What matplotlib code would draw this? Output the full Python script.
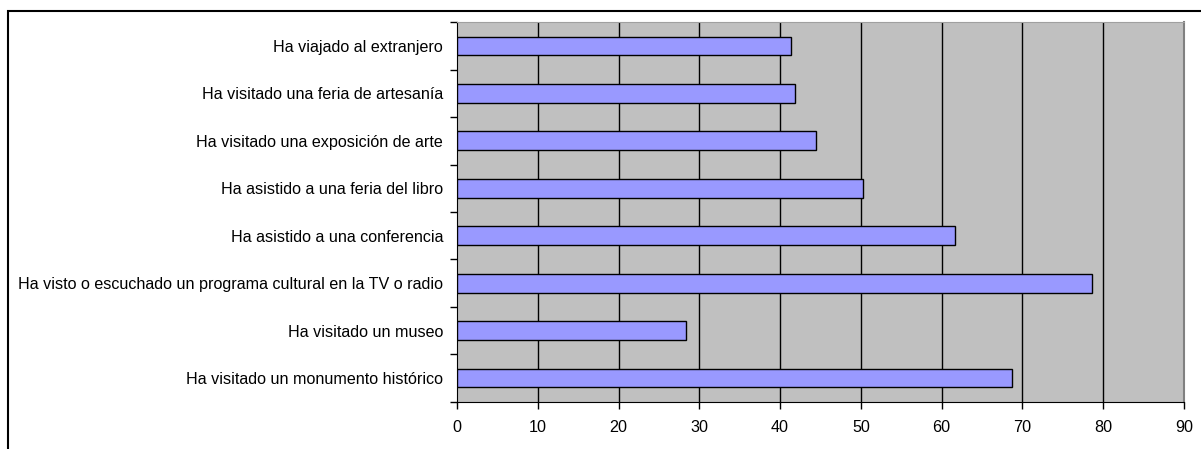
import numpy as np
import matplotlib.pyplot as plt
from matplotlib.patches import Rectangle

plt.rcParams['font.family'] = ['Liberation Sans', 'DejaVu Sans']

# categorias de abajo hacia arriba
categorias = ["Ha visitado un monumento histórico",
              "Ha visitado un museo",
              "Ha visto o escuchado un programa cultural en la TV o radio",
              "Ha asistido a una conferencia",
              "Ha asistido a una feria del libro",
              "Ha visitado una exposición de arte",
              "Ha visitado una feria de artesanía",
              "Ha viajado al extranjero"]
valores = [68.7, 28.4, 78.6, 61.6, 50.2, 44.4, 41.9, 41.4]
xticks = [0, 10, 20, 30, 40, 50, 60, 70, 80, 90]

fig = plt.figure(figsize=(12.01, 4.49), dpi=100)
ax = fig.add_axes([457/1201, 1 - 401.7/449, (1184 - 457)/1201, (401.7 - 22.3)/449])
ax.set_facecolor('#c0c0c0')

y = np.arange(len(categorias))
ax.barh(y, valores, height=0.4, color='#9999ff', edgecolor='black', linewidth=1, zorder=3)

ax.set_xlim(0, 90)
ax.set_ylim(-0.5, len(categorias) - 0.5)
ax.set_xticks(xticks)
ax.set_xticklabels([str(t) for t in xticks], fontsize=11.6)
ax.set_yticks(y)
ax.set_yticklabels(categorias, fontsize=11.6)
ax.set_yticks(np.arange(-0.5, len(categorias)), minor=True)
ax.tick_params(axis='y', which='major', length=0, pad=10)
ax.tick_params(axis='y', which='minor', length=5, width=1, direction='out')
ax.tick_params(axis='x', which='major', length=5, width=1, direction='out', pad=8)

# lineas de la grilla verticales
for t in xticks[1:-1]:
    ax.axvline(t, color='black', linewidth=1, zorder=2)

ax.spines['left'].set_color('black')
ax.spines['bottom'].set_color('black')
ax.spines['right'].set_color('#808080')
ax.spines['right'].set_linewidth(1.5)
ax.spines['top'].set_color('#a0a0a0')

# marco exterior
fig.add_artist(Rectangle((7.5/1201, -0.1), 2, (449 - 11.5)/449 + 0.1,
                         transform=fig.transFigure, fill=False, lw=1.5, edgecolor='black'))

plt.savefig('out.png', dpi=100)
